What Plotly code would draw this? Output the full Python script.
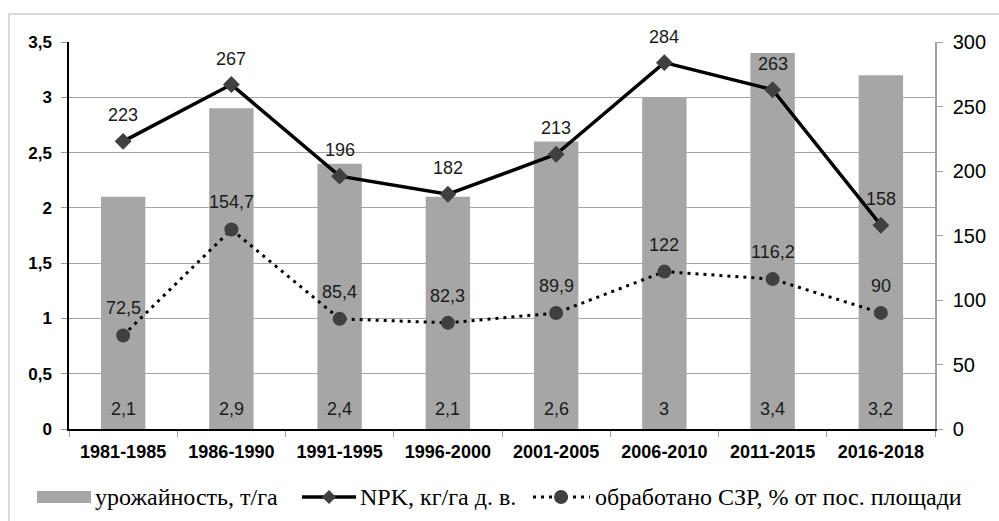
import plotly.graph_objects as go

periods = ["1981-1985", "1986-1990", "1991-1995", "1996-2000",
           "2001-2005", "2006-2010", "2011-2015", "2016-2018"]
yield_t_ha = [2.1, 2.9, 2.4, 2.1, 2.6, 3.0, 3.4, 3.2]
npk_kg_ha = [223, 267, 196, 182, 213, 284, 263, 158]
szr_pct = [72.5, 154.7, 85.4, 82.3, 89.9, 122, 116.2, 90]

legend_names = ["урожайность, т/га", "NPK, кг/га д. в.", "обработано СЗР, % от пос. площади"]


def fmt(v):
    s = ("%g" % v)
    return s.replace(".", ",")


FONT = "Arial, Liberation Sans, sans-serif"
SERIF = "Times New Roman, Liberation Serif, serif"
W, H = 999, 521
ML, MR, MT, MB = 69, 64, 42, 92
PW, PH = W - ML - MR, H - MT - MB


def px(x):
    return (x - ML) / PW


def py(y):
    return (H - MB - y) / PH


fig = go.Figure()

fig.add_trace(go.Bar(
    x=periods, y=yield_t_ha, name=legend_names[0],
    marker=dict(color="#A6A6A6", line=dict(width=0)),
    width=0.41,
    showlegend=False, yaxis="y",
))

fig.add_trace(go.Scatter(
    x=periods, y=npk_kg_ha, name=legend_names[1], yaxis="y2",
    mode="lines+markers",
    line=dict(color="black", width=3.5),
    marker=dict(symbol="diamond", size=13, color="#404040"),
    showlegend=False,
))

fig.add_trace(go.Scatter(
    x=periods, y=szr_pct, name=legend_names[2], yaxis="y2",
    mode="lines+markers",
    line=dict(color="black", width=3, dash="3px,5px"),
    marker=dict(symbol="circle", size=14, color="#404040"),
    showlegend=False,
))

LBL = dict(family=FONT, size=18, color="#1a1a1a")
annotations = []
for p, v in zip(periods, yield_t_ha):
    annotations.append(dict(x=p, y=0, xref="x", yref="y", text=fmt(v),
                            showarrow=False, yshift=20, font=LBL))
for p, v in zip(periods, npk_kg_ha):
    annotations.append(dict(x=p, y=v, xref="x", yref="y2", text=fmt(v),
                            showarrow=False, yshift=26, font=LBL))
for p, v in zip(periods, szr_pct):
    annotations.append(dict(x=p, y=v, xref="x", yref="y2", text=fmt(v),
                            showarrow=False, yshift=27, font=LBL))

# manual legend
legend_y = 497
shapes = [
    # outer border (cropped frame)
    dict(type="rect", xref="paper", yref="paper",
         x0=px(9), x1=px(1010), y0=py(14), y1=py(530),
         line=dict(color="#D9D9D9", width=2), fillcolor="rgba(0,0,0,0)", layer="below"),
    # bar swatch
    dict(type="rect", xref="paper", yref="paper",
         x0=px(37), x1=px(91), y0=py(legend_y - 6), y1=py(legend_y + 6),
         line=dict(width=0), fillcolor="#A6A6A6"),
    # NPK line swatch
    dict(type="line", xref="paper", yref="paper",
         x0=px(302), x1=px(356), y0=py(legend_y), y1=py(legend_y),
         line=dict(color="black", width=3.5)),
    # SZR dotted swatch
    dict(type="line", xref="paper", yref="paper",
         x0=px(533), x1=px(590), y0=py(legend_y), y1=py(legend_y),
         line=dict(color="black", width=3, dash="3px,5px")),
    # diamond marker in legend
    dict(type="path", xref="paper", yref="paper",
         path="M %f %f L %f %f L %f %f L %f %f Z" % (
             px(329 - 7), py(legend_y), px(329), py(legend_y - 7),
             px(329 + 7), py(legend_y), px(329), py(legend_y + 7)),
         line=dict(width=0), fillcolor="#404040"),
    # circle marker in legend
    dict(type="circle", xref="paper", yref="paper",
         x0=px(561 - 7), x1=px(561 + 7), y0=py(legend_y - 7), y1=py(legend_y + 7),
         line=dict(width=0), fillcolor="#404040"),
]

for xt, txt in [(93, legend_names[0]), (358, legend_names[1]), (593, legend_names[2])]:
    annotations.append(dict(x=px(xt), y=py(legend_y), xref="paper", yref="paper",
                            text=txt, showarrow=False, xanchor="left", yanchor="middle",
                            font=dict(family=SERIF, size=24, color="black")))

fig.update_layout(
    width=W, height=H,
    margin=dict(l=ML, r=MR, t=MT, b=MB, pad=0),
    paper_bgcolor="white", plot_bgcolor="white",
    separators=", ",
    bargap=0.5,
    showlegend=False,
    font=dict(family=FONT, color="black"),
    xaxis=dict(
        type="category", showgrid=False, showline=True, linecolor="black", linewidth=1.5,
        ticks="outside", tickson="boundaries", ticklen=6, tickcolor="#999999",
        tickfont=dict(family=FONT, size=18, color="black", weight="bold"),
        ticklabelstandoff=6, zeroline=False,
    ),
    yaxis=dict(
        range=[0, 3.5], dtick=0.5, showgrid=True, gridcolor="#A6A6A6", gridwidth=1.3,
        showline=True, linecolor="black", linewidth=1.5,
        ticks="outside", ticklen=6, tickcolor="#999999",
        tickfont=dict(family=FONT, size=17, color="black", weight="bold"),
        ticklabelstandoff=6, zeroline=False,
    ),
    yaxis2=dict(
        range=[0, 300], dtick=50, overlaying="y", side="right", showgrid=False,
        showline=True, linecolor="#A0A0A0", linewidth=1.5,
        ticks="outside", ticklen=6, tickcolor="#A0A0A0",
        tickfont=dict(family=FONT, size=20, color="black"),
        ticklabelstandoff=6, zeroline=False,
    ),
    shapes=shapes,
    annotations=annotations,
)

fig.write_html("out.html", config={"displayModeBar": False},
               post_script="document.body.style.margin='0';document.body.style.overflow='hidden';")
